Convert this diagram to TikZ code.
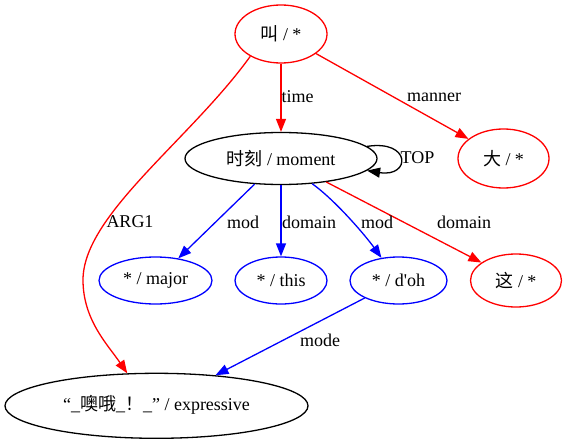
\documentclass[tikz,border=0pt]{standalone}
\usepackage{fontspec}
\setmainfont{Liberation Serif}
\newfontfamily\plainserif{Liberation Serif}
\newfontfamily\cjk{Noto Sans CJK SC}
\usetikzlibrary{arrows.meta,shapes.geometric}
\begin{document}
\begin{tikzpicture}[x=1pt,y=-1pt,
  every node/.style={font=\fontsize{18}{20}\selectfont},
  nd/.style={ellipse,draw,line width=1.3pt,inner sep=0pt},
  edge/.style={line width=1.3pt,-{Triangle[length=13pt,width=10pt]}},
  lbl/.style={inner sep=1pt}]
\useasboundingbox (0,0) rectangle (567,444);
\node[nd,red,text=black,minimum width=92,minimum height=58] (jiao) at (281,34) {{\cjk 叫} / *};
\node[nd,black,minimum width=192,minimum height=52] (mom) at (281,158.5) {{\cjk 时刻} / moment};
\node[nd,red,text=black,minimum width=91,minimum height=59] (da) at (503.5,158.5) {{\cjk 大} / *};
\node[nd,blue,text=black,minimum width=113,minimum height=47] (major) at (155.5,280.5) {* / major};
\node[nd,blue,text=black,minimum width=92,minimum height=47] (this) at (281,280.5) {* / this};
\node[nd,blue,text=black,minimum width=97,minimum height=47] (doh) at (398.5,280.5) {{\plainserif * / d'oh}};
\node[nd,red,text=black,minimum width=91,minimum height=53] (zhe) at (516,280.5) {{\cjk 这} / *};
\node[nd,black,minimum width=303,minimum height=65] (bot) at (156.5,405.8) {\raisebox{5pt}{“\_{\cjk 噢哦}\_{\cjk ！}\_” / expressive}};

\draw[edge,red] (jiao) -- (mom);
\draw[edge,red] (jiao) -- (da);
\draw[edge,red] (jiao.216) .. controls (190,140) and (83,215) .. (83,280)
  .. controls (83,320) and (108,345) .. (bot.132);
\draw[edge,black] (mom.8) .. controls +(44,-7) and +(44,7) .. (mom.-8);
\draw[edge,blue] (mom) -- (major);
\draw[edge,blue] (mom) -- (this);
\draw[edge,blue] (mom.-39) .. controls (335,200) and (365,235) .. (doh.127);
\draw[edge,red] (mom) -- (zhe);
\draw[edge,blue] (doh) -- (bot);

\node[lbl] (ltime) at (297.5,97) {time};
\node[lbl] (lmanner) at (434,97) {manner};
\node[lbl] (larg) at (130,222) {ARG1};
\node[lbl] (ltop) at (417.5,158) {TOP};
\node[lbl] (lmod1) at (243,222) {mod};
\node[lbl] (ldom1) at (309,222) {domain};
\node[lbl] (lmod2) at (377,222) {mod};
\node[lbl] (ldom2) at (464,222) {domain};
\node[lbl] (lmode) at (320,340) {mode};
\end{tikzpicture}
\end{document}
